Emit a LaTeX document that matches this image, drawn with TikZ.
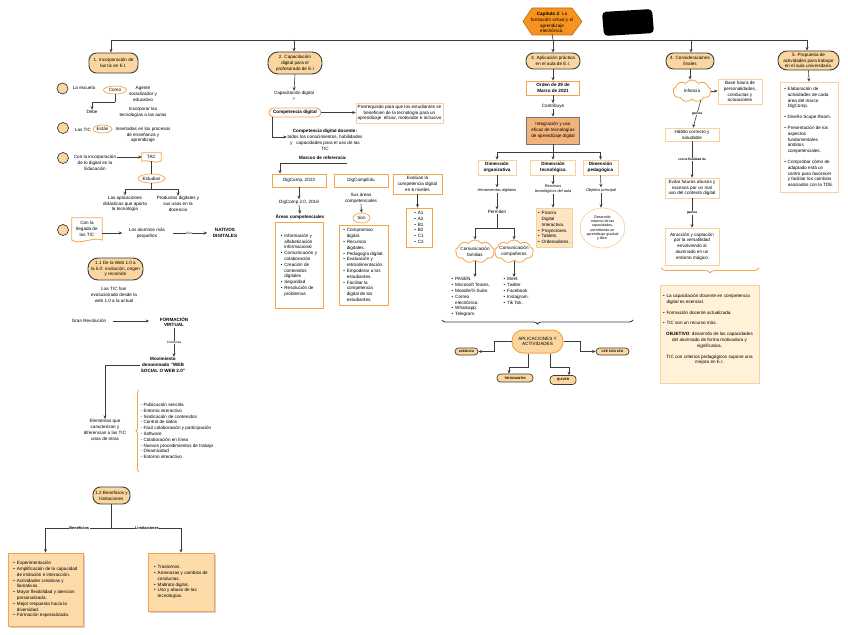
\documentclass[tikz,border=0pt]{standalone}
\usepackage{fontspec}
\setmainfont{Liberation Sans}
\usetikzlibrary{shapes.misc,shapes.geometric,shapes.symbols,arrows.meta,decorations.pathreplacing,shadows}
\definecolor{peach}{HTML}{FBD79F}
\definecolor{orl}{HTML}{F5A34C}
\definecolor{orx}{HTML}{FAD09C}
\definecolor{ttl}{HTML}{F7931E}
\definecolor{tanfill}{HTML}{F4B27B}
\definecolor{cream}{HTML}{FFF2D9}
\definecolor{lnk}{HTML}{3C3C3C}
\definecolor{bfill}{HTML}{FDDCAA}
\definecolor{tfill}{HTML}{FDE4C3}
\newcommand\fs{\fontsize{4.6}{5.8}\selectfont}
\newcommand\sfs{\fontsize{3.9}{5}\selectfont}
\newcommand\efs{\fontsize{3.6}{4.2}\selectfont}
\newcommand\tfs{\fontsize{3.2}{3.8}\selectfont}
\newcommand\bul{\makebox[3.5pt][l]{\textbullet}}
\newcommand\ind{\hspace*{3.5pt}}
\begin{document}
\begin{tikzpicture}[x=1pt,y=-1pt,
 every node/.style={font=\fs, inner sep=0.5pt, align=center},
 hdr/.style={rectangle, rounded corners=7.5pt, draw=lnk, line width=0.9pt, fill=peach, inner sep=1pt},
 obox/.style={rectangle, draw=orl, line width=0.7pt, fill=white, inner sep=1.5pt},
 lbox/.style={rectangle, draw=orx, line width=0.7pt, fill=white, inner sep=1.5pt},
 oell/.style={ellipse, draw=orl, line width=0.7pt, fill=white, inner sep=0pt},
 dot/.style={circle, draw=lnk, fill=peach, line width=0.7pt, minimum size=11pt, inner sep=0pt},
 pill/.style={rectangle, rounded corners=3.5pt, draw=lnk, line width=0.7pt, fill=peach, inner sep=0.5pt, font=\tfs\bfseries},
 cloudy/.style={cloud, cloud puffs=9, cloud puff arc=110, aspect=1.7, draw=orl, line width=0.8pt, fill=white, inner sep=0pt},
 arr/.style={draw=lnk, line width=0.6pt, -{Stealth[length=3.5pt,width=3pt]}},
 ln/.style={draw=lnk, line width=0.6pt},
 lbl/.style={font=\tfs\bfseries, fill=white, inner sep=0.4pt},
 lblr/.style={font=\tfs, fill=white, inner sep=0.4pt},
 bf/.style={font=\fs\bfseries},
 bbox/.style={rectangle, draw=orl, line width=0.8pt, fill=bfill, align=left, inner sep=2pt,
   drop shadow={shadow xshift=2pt, shadow yshift=-2pt, opacity=0.35}}
]
\useasboundingbox (0,0) rectangle (848,634);
\fill[white] (0,0) rectangle (848,634);

% ---------- title ----------
\fill[ttl, draw=ttl!75!black, line width=0.6pt] (523,21.5) -- (532,8) -- (572,8) -- (582,21.5) -- (572,35) -- (532,35) -- cycle;
\node (title) at (552,22.5) {\textbf{Capítulo 2}: La\\formación virtual y el\\aprendizaje\\electrónico.};
\fill[black, rounded corners=4pt] (602,12) -- (652,9) -- (654,33) -- (604,36) -- cycle;

\coordinate (bus1) at (111,40);
\coordinate (bus2) at (294,40);
\coordinate (bus3) at (553,40);
\coordinate (bus4) at (691,40);
\coordinate (bus5) at (807,40);
\draw[ln] (bus1) -- (bus5);
\draw[ln] (title.south) -- (bus3);

% ---------- column 1 ----------
\node[hdr, minimum width=49pt, minimum height=20pt] (n1) at (113.5,63) {1. Incorporación de\\las tic en E.I.};
\draw[arr] (bus1) -- (bus1 |- n1.north);

\node[dot] (d1) at (62.5,88.5) {};
\node (esc) at (84,88) {La escuela};
\node[oell, minimum width=23pt, minimum height=8pt] (como) at (115,90) {Como};
\node (agente) at (143,94) {Agente\\socializador y\\educativo};
\coordinate (comoj) at (115,102);
\node (debe) at (92,112) {Debe};
\node (incorp) at (143,112) {Incorporar las\\tecnologías a las aulas};
\draw[ln] (como.south) -- (comoj);
\draw[arr] (comoj) -| (debe.north);

\node[dot] (d2) at (63,128) {};
\node (lastic) at (83,130) {Las TIC};
\node[oell, minimum width=19pt, minimum height=8pt] (estan) at (102.5,129) {Están};
\node (insert) at (143,135) {Insertadas en los procesos\\de enseñanza y\\aprendizaje};

\node[dot] (d3) at (63,158) {};
\node (conin) at (95,163) {Con la incorporación\\de lo digital en la\\Educación};
\node[minimum width=19pt, minimum height=8pt, inner sep=0pt] (tac) at (151.5,157) {TAC};
\draw[orl, line width=0.8pt] (tac.south east) -- (tac.north east) -- (tac.north west) -- (tac.south west) .. controls ([shift={(6pt,2pt)}]tac.south west) and ([shift={(-6pt,-3pt)}]tac.south east) .. (tac.south east);
\draw[arr] (conin.east |- tac.west) -- (tac.west);
\node[oell, minimum width=27pt, minimum height=9pt] (estud) at (151.5,178.5) {Estudian};
\draw[ln] (tac.south) -- (estud.north);
\coordinate (estj) at (151.5,189);
\draw[ln] (estud.south) -- (estj);
\node (aplic) at (125,204) {Las aplicaciones\\didácticas que aporta\\la tecnología};
\node (prod) at (178,204) {Productos digitales y\\sus usos en la\\docencia};
\draw[arr] (estj) -| (aplic.north);
\draw[arr] (estj) -| (prod.north);

\node[dot] (d4) at (63,230) {};
\node[minimum width=30pt, minimum height=22pt, inner sep=0pt] (lleg) at (87,229) {Con la\\llegada de\\las TIC};
\draw[orl, line width=0.8pt] (lleg.south east) -- (lleg.north east) -- (lleg.north west) -- (lleg.south west) .. controls ([shift={(8pt,-5pt)}]lleg.south west) and ([shift={(-8pt,4pt)}]lleg.south east) .. (lleg.south east);
\node (alum) at (147,233) {Los alumnos más\\pequeños};
\node[bf] (nat) at (225,233) {NATIVOS\\DIGITALES};
\draw[arr] (lleg.east |- alum.west) -- ([xshift=-6pt]alum.west);
\draw[arr, shorten <=7pt, shorten >=5pt] (alum.east) -- (nat.west) node[midway, lblr] {Son};

\node[hdr, rounded corners=10pt, minimum width=55pt, minimum height=22pt] (n11) at (115.5,269) {1.1 De la Web 1.0 a\\la 5.0: evolución, origen\\y recorrido};
\node (evol) at (114,295) {Las TIC han\\evolucionado desde la\\web 1.0 a la actual};

\node (gran) at (89,321) {Gran Revolución};
\node[bf] (fv) at (174,322) {FORMACIÓN\\VIRTUAL};
\draw[arr, shorten <=6pt, shorten >=10pt] (gran.east) -- (fv.west |- gran.east);
\node[bf] (mov) at (163,365) {Movimiento\\denominado "WEB\\SOCIAL O WEB 2.0"};
\draw[arr] (fv.south) -- (fv.south |- mov.north) node[pos=0.5, lblr] {Comienza};
\node (elem) at (105,430) {Elementos que\\caracterizan y\\diferencian a las TIC\\unas de otras};
\draw[arr] (mov.west) -| (elem.north);
\draw[orl, line width=0.8pt, decorate, decoration={brace, amplitude=3pt}] (139,472) -- (139,390);
\node[align=left, anchor=west] (web2) at (140,431) {- Publicación sencilla\\- Entorno interactivo\\- Sindicación de contenidos\\- Control de datos\\- Fácil colaboración y participación\\- Software\\- Colaboración en línea\\- Nuevos procedimientos de trabajo\\- Dinamicidad\\- Entorno interactivo};

\node[hdr, minimum width=37pt, minimum height=17pt] (n12) at (111.5,495.5) {1.2 Beneficios y\\limitaciones};
\node[bbox, minimum width=75pt, minimum height=73pt] (ben) at (45.5,589.5) {\bul Experimentación\\\bul Amplificación de la capacidad\\\ind de imitación e interacción.\\\bul Actividades creativas y\\\ind llamativas.\\\bul Mayor flexibilidad y atencion\\\ind personalizada.\\\bul Mejor respuesta hacia la\\\ind diversidad.\\\bul Formación especializada.};
\node[bbox, minimum width=66pt, minimum height=58pt] (lim) at (181,582) {\bul Trastornos.\\\bul Amenazas y cambios de\\\ind conductas.\\\bul Maltrato digital.\\\bul Uso y abuso de las\\\ind tecnologías.};
\coordinate (bj) at (113,528);
\draw[ln] (n12.south) -- (n12.south |- bj);
\draw[arr] (bj) -| (ben.north) node[pos=0.25, lbl, font=\sfs\bfseries] {Beneficios};
\draw[arr] (bj) -| (lim.north) node[pos=0.25, lbl, font=\sfs\bfseries] {Limitaciones};

% ---------- column 2 ----------
\node[hdr, rounded corners=10pt, minimum width=54pt, minimum height=22pt] (n2) at (295,63) {2. Capacitación\\digital para el\\profesorado de E.I};
\draw[arr] (bus2) -- (bus2 |- n2.north);
\node (capd) at (294,96) {Capacitación digital\\=};
\draw[arr] (n2.south) -- (capd.north);
\node[rectangle, rounded corners=4.5pt, draw=orl, line width=0.9pt, fill=white, minimum width=52pt, minimum height=9pt, bf] (comp) at (295,112.5) {Competencia digital};
\node[lbox, minimum width=85pt, minimum height=20pt] (prer) at (399.5,113) {Prerrequisito para que los estudiantes se\\beneficien de la tecnología para un\\aprendizaje\ \ eficaz, motivador e inclusivo};
\draw[arr] (comp.east) -- (comp.east -| prer.west);
\node (cdd) at (325,140) {\textbf{Competencia digital docente:}\\todos los conocimientos, habilidades\\y\ \ \ capacidades para el uso de las\\TIC};
\draw[arr] (comp.south -| 272,0) |- ([yshift=3pt]cdd.west);
\node[bf] (marcos) at (323,158) {Marcos de referencia:};
\node[obox, minimum width=54pt, minimum height=13pt] (dc13) at (299,180.5) {DigComp, 2013};
\node[obox, minimum width=54pt, minimum height=13pt] (dce) at (361,180.5) {DigCompEdu};
\node[obox, minimum width=49pt, minimum height=20pt] (eval) at (417.5,184) {Evalúan la\\competencia digital\\en 6 niveles};
\draw[arr] ([yshift=-2.5pt]marcos.south east) -| ([xshift=-19pt]dc13.north);
\node (dc16) at (299,202) {DigComp 2.0, 2016};
\draw[arr] (dc13.south) -- (dc16.north);
\node[bf] (areas) at (300,217) {Áreas competenciales};
\draw[arr] (dc16.south) -- (areas.north);
\node[obox, minimum width=48pt, minimum height=86pt, align=left] (l1) at (299,265) {\bul Información y\\\ind alfabetización\\\ind informacional\\\bul Comunicación y\\\ind colaboración\\\bul Creación de\\\ind contenidos\\\ind digitales\\\bul Seguridad\\\bul Resolución de\\\ind problemas};
\node (sus) at (361,198) {Sus áreas\\competenciales};
\node[oell, minimum width=17pt, minimum height=10pt] (son) at (361.5,218) {Son};
\draw[arr] (sus.south) -- (son.north);
\node[obox, minimum width=49pt, minimum height=80pt, align=left] (l2) at (363.5,265) {\bul Compromiso\\\ind digital.\\\bul Recursos\\\ind digitales.\\\bul Pedagogía digital.\\\bul Evaluación y\\\ind retroalimentación.\\\bul Empoderar a los\\\ind estudiantes.\\\bul Facilitar la\\\ind competencia\\\ind digital de los\\\ind estudiantes.};
\node[obox, minimum width=26pt, minimum height=39pt, align=left] (l3) at (419,227.5) {\bul A1\\\bul A2\\\bul B1\\\bul B2\\\bul C1\\\bul C2};
\draw[arr, line width=1pt] (eval.south) -- (eval.south |- l3.north);

% ---------- column 3 ----------
\node[hdr, minimum width=54pt, minimum height=16pt] (n3) at (553,61) {3. Aplicación práctica\\en el aula de E.I.};
\draw[arr] (bus3) -- (bus3 |- n3.north);
\node[obox, minimum width=53pt, minimum height=14pt, bf] (orden) at (553,88) {Orden de 29 de\\Marzo de 2021};
\draw[arr] (n3.south) -- (orden.north);
\node (contr) at (553,106) {Contribuye};
\draw[arr] (orden.south) -- (contr.north);
\node[rectangle, draw=lnk!70, fill=tanfill, line width=0.8pt, minimum width=53pt, minimum height=27pt] (integ) at (553,130.5) {Integración y uso\\eficaz de tecnologías\\de aprendizaje digital};
\draw[arr] (contr.south) -- (integ.north);
\coordinate (ij) at (553,152);
\draw[ln] (integ.south) -- (ij);
\node[lbox, minimum width=38pt, minimum height=15pt, bf] (dorg) at (497,167.5) {Dimensión\\organizativa};
\node[lbox, minimum width=45pt, minimum height=15pt, bf] (dtec) at (553,167.5) {Dimensión\\tecnológica};
\node[lbox, minimum width=35pt, minimum height=15pt, bf] (dped) at (600.5,167.5) {Dimensión\\pedagógica};
\draw[arr] (ij) -| (dorg.north);
\draw[arr] (ij) -- (dtec.north);
\draw[arr] (ij) -| (dped.north);
\node[font=\sfs\itshape] (herr) at (497,190) {Herramientas digitales};
\node[font=\sfs\itshape] (recur) at (553,189.5) {Recursos\\tecnológicos del aula};
\node[font=\sfs\itshape] (obj) at (601,190) {Objetivo principal};
\draw[arr] (dorg.south) -- (herr.north);
\draw[arr] (dtec.south) -- (recur.north);
\draw[arr] (dped.south) -- (obj.north);
\node (perm) at (497,212) {Permiten};
\draw[arr] (herr.south) -- (perm.north);
\coordinate (pj) at (497,228);
\draw[ln] (perm.south) -- (pj);
\node[cloudy, minimum width=39pt, minimum height=23pt] (cfam) at (475,251.5) {};
\node at (cfam.center) {Comunicación\\familias};
\node[cloudy, minimum width=39pt, minimum height=23pt] (ccom) at (514,251.5) {};
\node at (ccom.center) {Comunicación\\compañeros};
\draw[arr] (pj) -| (cfam.north);
\draw[arr] (pj) -| (ccom.north);
\node[align=left, anchor=north west] (lfam) at (451,277) {\bul PASEN.\\\bul Microsoft Teams.\\\bul Moodle/G-Suite.\\\bul Correo\\\ind electrónico.\\\bul Whatsapp.\\\bul Telegram.};
\node[align=left, anchor=north west] (lcom) at (503,277) {\bul Meet.\\\bul Twitter.\\\bul Facebook.\\\bul Instagram.\\\bul Tik Tok.};
\draw[arr] (cfam.south) -- (cfam.south |- lfam.north);
\draw[arr] (ccom.south) -- (ccom.south |- lcom.north);
\node[rectangle, draw=orx, fill=tfill, line width=0.7pt, minimum width=36pt, minimum height=39pt, align=left, inner sep=1pt] (ltec) at (554,227.5) {\bul Pizarra\\\ind Digital\\\ind Interactiva.\\\bul Proyectores.\\\bul Tablets.\\\bul Ordenadores.};
\draw[arr] (recur.south) -- (recur.south |- ltec.north);
\node[ellipse, draw=orx, line width=0.7pt, fill=white, minimum width=41pt, minimum height=40pt, inner sep=0pt, font=\efs] (eped) at (602.5,228) {Desarrollo\\máximo de las\\capacidades,\\permitiendo un\\aprendizaje gradual\\y libre.};
\draw[arr] (obj.south) -- (obj.south |- eped.north);

\draw[lnk, line width=0.8pt, decorate, decoration={brace, amplitude=4pt}] (633,320) -- (442,320);
\node[rectangle, rounded corners=11pt, draw=orl, line width=1pt, fill=peach, minimum width=51pt, minimum height=23pt] (apl) at (537.5,341.5) {APLICACIONES Y\\ACTIVIDADES};
\node[pill, minimum width=23pt, minimum height=7pt] (leed) at (466.5,351.5) {LEEDUCA};
\node[pill, minimum width=33pt, minimum height=7pt] (leo) at (612.5,351.5) {LEE CON LEO};
\node[pill, minimum width=36pt, minimum height=8pt] (tint) at (515,378) {TINTARANTIN};
\node[pill, minimum width=26pt, minimum height=9pt] (quiv) at (563,380) {QUIVER};
\draw[arr] (apl.west) -- ++(-17,0) |- (leed.east);
\draw[arr] (apl.east) -- ++(17,0) |- (leo.west);
\draw[arr] ([xshift=-9.5pt]apl.south) -- ++(0,14) -| ([xshift=-6pt]tint.north);
\draw[arr] ([xshift=13pt]apl.south) -- ++(0,14) -| ([xshift=6pt]quiv.north);

% ---------- column 4 ----------
\node[hdr, minimum width=48pt, minimum height=16pt] (n4) at (690,61) {4. Consideraciones\\finales};
\draw[arr] (bus4) -- (bus4 |- n4.north);
\node[cloudy, minimum width=38pt, minimum height=22pt] (inf) at (692,91) {};
\node at (inf.center) {Infancia};
\draw[arr] (n4.south) -- (n4.south |- inf.north);
\node[lbox, minimum width=44pt, minimum height=25pt] (base) at (740,91.5) {Base futura de\\personalidades,\\conductas y\\actuaciones};
\draw[arr] (inf.east) -- (inf.east -| base.west);
\node[lbox, minimum width=54pt, minimum height=13pt] (hab) at (692,134.5) {Hábito correcto y\\saludable};
\draw[arr] ([xshift=9pt]inf.south) -- ([xshift=1pt]hab.north) node[midway, lbl] {genera};
\node[lbox, minimum width=54pt, minimum height=20pt] (evit) at (692,188) {Evitar futuros abusos y\\excesos por un mal\\uso del contexto digital};
\draw[arr] (hab.south) -- (evit.north) node[midway, lbl] {con la finalidad de};
\node[lbox, minimum width=54pt, minimum height=37pt] (atr) at (692,246.5) {Atracción y captación\\por la versatilidad\\envolviendo al\\alumnado en un\\entorno mágico};
\draw[arr] (evit.south) -- (atr.north) node[midway, lbl] {genera};
\draw[orl, line width=0.8pt, decorate, decoration={brace, amplitude=5pt}] (759,268) -- (661,268);
\node[rectangle, draw=orx, fill=cream, line width=0.7pt, minimum width=99pt, minimum height=98pt, align=left] (concl) at (709.5,334) {\bul La capacitación docente en competencia\\\ind digital es esencial.\\[5pt]\bul Formación docente actualizada.\\[5pt]\bul TIC son un recurso más.\\[5pt]\makebox[93pt]{\textbf{OBJETIVO}: desarrollo de las capacidades}\\\makebox[93pt]{del alumnado de forma motivadora y}\\\makebox[93pt]{significativa.}\\[5pt]\makebox[93pt]{TIC con criterios pedagógicos supone una}\\\makebox[93pt]{mejora en E.I.}\\[4pt]\mbox{}};

% ---------- column 5 ----------
\node[hdr, rounded corners=9pt, minimum width=61pt, minimum height=19pt] (n5) at (808.5,60.5) {5. Propuesta de\\actividades para trabajar\\en el aula universitaria.};
\draw[arr] (bus5) -- (bus5 |- n5.north);
\node[lbox, minimum width=58pt, minimum height=110pt, align=left] (l5) at (809,137) {\bul Elaboración de\\\ind actividades de cada\\\ind área del marco\\\ind DigComp.\\[5pt]\bul Diseño Scape Room.\\[5pt]\bul Presentación de los\\\ind aspectos\\\ind fundamentales\\\ind ámbitos\\\ind competenciales.\\[5pt]\bul Comprobar cómo de\\\ind adaptado está un\\\ind centro para favorecer\\\ind y facilitar los cambios\\\ind asociados con la TDE.};
\draw[arr] (n5.south) -- (l5.north);
\end{tikzpicture}
\end{document}
